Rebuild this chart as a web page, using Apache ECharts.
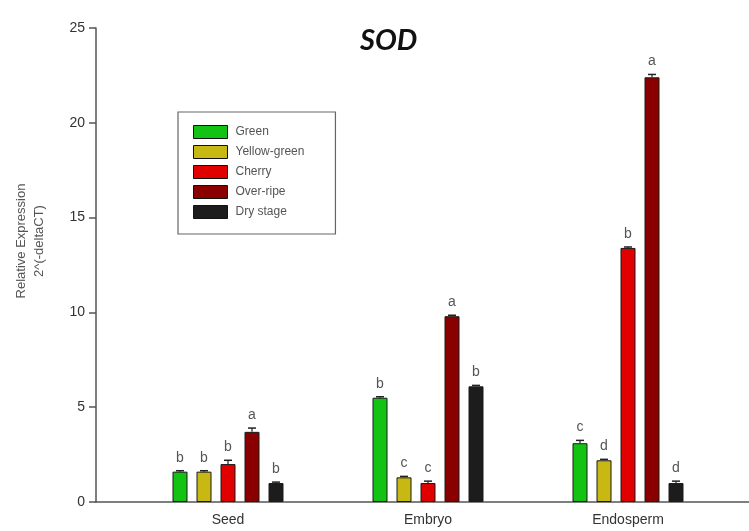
<!DOCTYPE html>
<html>
<head>
<meta charset="utf-8">
<script src="https://cdn.jsdelivr.net/npm/echarts@6/dist/echarts.min.js"></script>
<style>
  html, body { margin: 0; padding: 0; background: #fff; }
  #chart { width: 749px; height: 531px; }
</style>
</head>
<body>
<div id="chart"></div>
<script>
// Tissues along the x axis and fruit ripening stages as series
const categories = ['Seed', 'Embryo', 'Endosperm'];
const stages = ['Green', 'Yellow-green', 'Cherry', 'Over-ripe', 'Dry stage'];

// Mean relative expression 2^(-deltaCT) per tissue
const green = [1.6, 5.5, 3.1];
const yellowGreen = [1.6, 1.3, 2.2];
const cherry = [2.0, 1.0, 13.4];
const overRipe = [3.7, 9.8, 22.4];
const dryStage = [1.0, 6.1, 1.0];

// Standard errors
const greenErr = [0.05, 0.05, 0.15];
const yellowGreenErr = [0.05, 0.05, 0.05];
const cherryErr = [0.2, 0.1, 0.05];
const overRipeErr = [0.2, 0.05, 0.15];
const dryStageErr = [0.05, 0.05, 0.1];

// Significance letters
const greenLetters = ['b', 'b', 'c'];
const yellowGreenLetters = ['b', 'c', 'd'];
const cherryLetters = ['b', 'c', 'b'];
const overRipeLetters = ['a', 'a', 'a'];
const dryStageLetters = ['b', 'b', 'd'];

const yTicks = [0, 5, 10, 15, 20, 25];

const seriesValues = [green, yellowGreen, cherry, overRipe, dryStage];
const seriesErrs = [greenErr, yellowGreenErr, cherryErr, overRipeErr, dryStageErr];
const seriesLetters = [greenLetters, yellowGreenLetters, cherryLetters, overRipeLetters, dryStageLetters];
const colors = ['#13c313', '#c8b814', '#e00000', '#8a0000', '#1c1c1c'];

const BAR_W = 15;
const BAR_GAP = 0.6;
const STEP = BAR_W * (1 + BAR_GAP);

const chart = echarts.init(document.getElementById('chart'));

const barSeries = stages.map((name, k) => ({
  name: name,
  type: 'bar',
  xAxisIndex: 1,
  yAxisIndex: 1,
  barWidth: BAR_W,
  barGap: (BAR_GAP * 100) + '%',
  itemStyle: { color: colors[k], borderColor: '#1a1a1a', borderWidth: 1 },
  data: seriesValues[k]
}));

// Error bars with caps, and the significance letter above each cap
const errSeries = stages.map((name, k) => ({
  name: name,
  type: 'custom',
  xAxisIndex: 1,
  yAxisIndex: 1,
  silent: true,
  z: 5,
  data: seriesValues[k].map((v, i) => [i, v, seriesErrs[k][i]]),
  renderItem: function (params, api) {
    const i = api.value(0);
    const v = api.value(1);
    const e = api.value(2);
    const letter = seriesLetters[k][i];
    const base = api.coord([i, v]);
    const top = api.coord([i, v + e]);
    const x = base[0] + (k - 2) * STEP;
    const cap = 4;
    return {
      type: 'group',
      children: [
        { type: 'line', shape: { x1: x, y1: base[1], x2: x, y2: top[1] },
          style: { stroke: '#222', lineWidth: 1.2 } },
        { type: 'line', shape: { x1: x - cap, y1: top[1], x2: x + cap, y2: top[1] },
          style: { stroke: '#222', lineWidth: 1.5 } },
        { type: 'text', x: x, y: top[1] - 6,
          style: { text: letter, textAlign: 'center', textVerticalAlign: 'bottom',
                   fontSize: 14, fontFamily: 'Liberation Sans', fill: '#555' } }
      ]
    };
  }
}));

chart.setOption({
  animation: false,
  backgroundColor: '#fff',
  title: {
    text: 'SOD',
    left: 355,
    top: 21,
    textStyle: { fontSize: 29, fontWeight: 'bold', fontStyle: 'italic',
                 fontFamily: 'Lato', color: '#111' }
  },
  legend: {
    data: stages,
    orient: 'vertical',
    left: 178,
    top: 112,
    padding: [13, 31, 15, 15],
    itemWidth: 34,
    itemHeight: 13,
    itemGap: 6,
    icon: 'rect',
    borderColor: '#666',
    borderWidth: 1.2,
    selectedMode: false,
    itemStyle: { borderColor: '#111', borderWidth: 1 },
    textStyle: { fontSize: 12, fontFamily: 'Liberation Sans', color: '#555', padding: [0, 0, 0, 3] }
  },
  graphic: [{
    type: 'text',
    x: 30,
    y: 241,
    rotation: Math.PI / 2,
    style: {
      text: 'Relative Expression\n2^(-deltaCT)',
      textAlign: 'center',
      textVerticalAlign: 'middle',
      fontSize: 13,
      lineHeight: 18,
      fontFamily: 'Liberation Sans',
      fill: '#555'
    }
  }],
  grid: [
    { left: 96, right: 0, top: 28, bottom: 29 },
    { left: 128, right: 21, top: 28, bottom: 29 }
  ],
  xAxis: [
    { gridIndex: 0, type: 'value', min: 0, max: 1,
      axisLine: { show: true, lineStyle: { color: '#555', width: 1.5 } },
      axisTick: { show: false }, axisLabel: { show: false }, splitLine: { show: false } },
    { gridIndex: 1, type: 'category', data: categories,
      axisLine: { show: false }, axisTick: { show: false },
      axisLabel: { fontSize: 14, fontFamily: 'Liberation Sans', color: '#333', margin: 11 } }
  ],
  yAxis: [
    { gridIndex: 0, type: 'value', min: yTicks[0], max: yTicks[yTicks.length - 1], interval: 5,
      axisLine: { show: true, lineStyle: { color: '#555', width: 1.5 } },
      axisTick: { show: true, inside: false, length: 7, lineStyle: { color: '#555', width: 1.5 } },
      axisLabel: { fontSize: 14, fontFamily: 'Liberation Sans', color: '#333', margin: 11 },
      splitLine: { show: false } },
    { gridIndex: 1, type: 'value', min: yTicks[0], max: yTicks[yTicks.length - 1], show: false }
  ],
  series: barSeries.concat(errSeries)
});
</script>
</body>
</html>
